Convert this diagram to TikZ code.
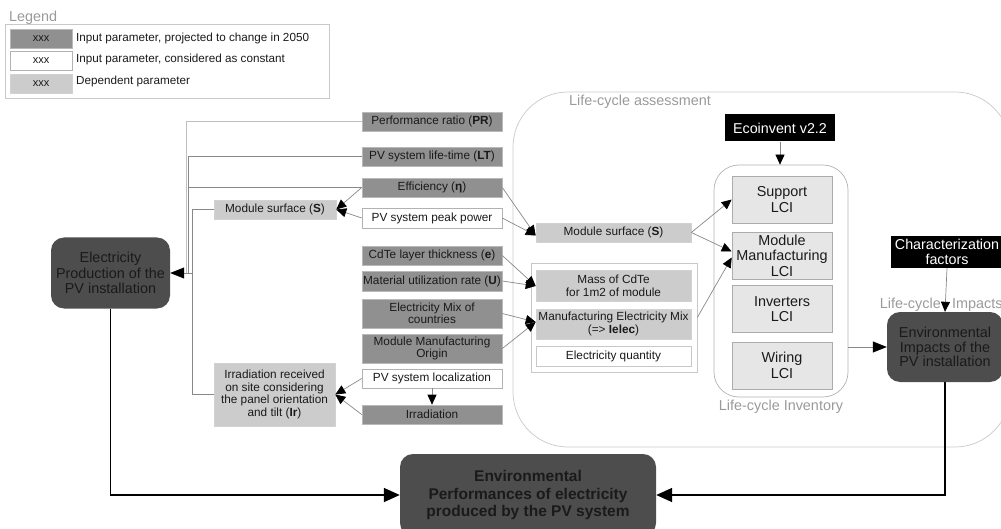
\documentclass[tikz,border=0pt]{standalone}
\usepackage{fontspec}
\setmainfont{Liberation Sans}
\usetikzlibrary{arrows.meta}
\definecolor{pdark}{HTML}{909090}
\definecolor{plight}{HTML}{CCCCCC}
\definecolor{lcifill}{HTML}{E6E6E6}
\definecolor{bignode}{HTML}{4D4D4D}
\definecolor{wiregray}{HTML}{888888}
\definecolor{framegray}{HTML}{C8C8C8}
\definecolor{capgray}{HTML}{9A9A9A}
\definecolor{ink}{HTML}{1A1A1A}
\newcommand\setfs[2]{\fontsize{#1}{#2}\selectfont}

\begin{document}
\begin{tikzpicture}[x=1pt,y=-1pt,
  inbox/.style={draw=gray!55, line width=0.6pt, fill=pdark, inner sep=0pt, align=center,
    text=ink, font=\setfs{11.8}{12.5}, minimum width=140pt, minimum height=19pt},
  constbox/.style={inbox, fill=white, draw=gray!60},
  depbox/.style={inbox, fill=plight, draw=gray!35},
  lcibox/.style={draw=gray!65, line width=0.6pt, fill=lcifill, minimum width=100pt,
    minimum height=47pt, inner sep=0pt, align=center, text=ink, font=\setfs{14.4}{15.5}},
  bigbox/.style={fill=bignode, rounded corners=13pt, inner sep=0pt, align=center,
    text=ink, font=\setfs{14.4}{15.5}},
  blackbox/.style={fill=black, text=white, inner sep=0pt, align=center, font=\setfs{14.3}{15}},
  captext/.style={text=capgray, inner sep=0pt, font=\setfs{14.4}{16}},
  legtext/.style={text=ink, inner sep=0pt, anchor=west, font=\setfs{11.7}{13}},
  wire/.style={draw=wiregray, line width=0.7pt},
  wtip/.style={-{Triangle[length=10pt,width=9pt,color=black]}},
  bigtip/.style={-{Triangle[length=14pt,width=11pt,color=black]}},
  mainline/.style={draw=black, line width=1.6pt, -{Triangle[length=16pt,width=14pt]}}
]
\useasboundingbox (0,0) rectangle (1001,529);

% ---------- legend ----------
\node[captext, anchor=west] (legtitle) at (9,18) {Legend};
\node[draw=framegray, line width=0.6pt, minimum width=324pt, minimum height=74pt,
  inner sep=0pt, anchor=north west] (legbox) at (5,24) {};
\node[inbox, minimum width=62pt, font=\setfs{11}{12}] (sw1) at (41,39) {xxx};
\node[constbox, minimum width=62pt, font=\setfs{11}{12}] (sw2) at (41,60.5) {xxx};
\node[depbox, minimum width=62pt, font=\setfs{11}{12}] (sw3) at (41,83.5) {xxx};
\node[legtext] (lg1) at (76,38) {Input parameter, projected to change in 2050};
\node[legtext] (lg2) at (76,59) {Input parameter, considered as constant};
\node[legtext] (lg3) at (76,81) {Dependent parameter};

% ---------- life-cycle assessment frame ----------
\node[draw=framegray, line width=0.7pt, rounded corners=55pt, minimum width=497pt,
  minimum height=355pt, inner sep=0pt] (lca) at (761.5,269.5) {};
\node[captext, anchor=west] (lcalabel) at (569,102) {Life-cycle assessment};

% ---------- input parameters ----------
\node[inbox] (pr)  at (432,121.5) {Performance ratio (\textbf{PR})};
\node[inbox] (lt)  at (432,156.5) {PV system life-time (\textbf{LT})};
\node[inbox] (eff) at (432,187.5) {Efficiency (\textbf{η})};
\node[constbox, minimum height=20pt] (pp) at (432,218) {PV system peak power};
\node[inbox] (cdte) at (432,255.5) {CdTe layer thickness (\textbf{e})};
\node[inbox, minimum height=20pt] (mur) at (432,281) {Material utilization rate (\textbf{U})};
\node[inbox, minimum height=29pt] (emix) at (432,313.5) {Electricity Mix of\\countries};
\node[inbox, minimum height=29pt] (origin) at (432,348.5) {Module Manufacturing\\Origin};
\node[constbox] (loc) at (432,378.5) {PV system localization};
\node[inbox] (irr) at (432,414.5) {Irradiation};

% ---------- dependent parameters ----------
\node[depbox, minimum width=122pt] (ms1) at (275,209.5) {Module surface (\textbf{S})};
\node[depbox, minimum width=121pt, minimum height=63pt, font=\setfs{11.8}{12.7}] (ir) at (274.5,394.5)
  {Irradiation received\\on site considering\\the panel orientation\\and tilt (\textbf{Ir})};
\node[depbox, minimum width=155pt] (ms2) at (613.5,232.5) {Module surface (\textbf{S})};
\node[draw=framegray, line width=0.6pt, minimum width=166pt, minimum height=109pt,
  inner sep=0pt] (elecgrp) at (614,317.5) {};
\node[depbox, minimum width=155pt, minimum height=31pt, font=\setfs{11.8}{13}] (mass) at (613.5,286)
  {Mass of CdTe\\for 1m2 of module};
\node[depbox, minimum width=155pt, minimum height=30pt, font=\setfs{11.8}{13}] (mem) at (613.5,324)
  {Manufacturing Electricity Mix\\(=> \textbf{Ielec})};
\node[constbox, minimum width=155pt, minimum height=20pt, draw=framegray] (equant) at (613.5,356.5)
  {Electricity quantity};

% ---------- electricity production ----------
\node[bigbox, minimum width=119pt, minimum height=71pt] (ep) at (110.5,273)
  {Electricity\\Production of the\\PV installation};

% ---------- life-cycle inventory ----------
\node[draw=gray!60, line width=0.7pt, rounded corners=25pt, minimum width=134pt,
  minimum height=232pt, inner sep=0pt] (lci) at (781,281) {};
\node[captext] (lcilabel) at (781,407) {Life-cycle Inventory};
\node[lcibox] (sup) at (782,199.5) {Support\\LCI};
\node[lcibox] (mml) at (782,255.5) {Module\\Manufacturing\\LCI};
\node[lcibox] (inv) at (782,309) {Inverters\\LCI};
\node[lcibox] (wir) at (782,365.5) {Wiring\\LCI};
\node[blackbox, minimum width=110pt, minimum height=27pt] (eco) at (780,128) {Ecoinvent v2.2};

% ---------- impacts ----------
\node[blackbox, minimum width=112pt, minimum height=32pt] (cf) at (947,252)
  {Characterization\\factors};
\node[captext, anchor=east] (lcilab1) at (941,305) {Life-cycle};
\node[captext, anchor=west] (lcilab2) at (952,305) {Impacts};
\node[bigbox, minimum width=116pt, minimum height=70pt, font=\setfs{14.4}{14.5}] (ei) at (945,347)
  {Environmental\\Impacts of the\\PV installation};

% ---------- final result ----------
\node[bigbox, minimum width=256pt, minimum height=82pt, font=\bfseries\setfs{15.5}{17.5}] (perf)
  at (528,495) {Environmental\\Performances of electricity\\produced by the PV system};

% ---------- parameter collection towards electricity production ----------
\coordinate (busA) at (186,273);
\coordinate (busB) at (188,273);
\coordinate (busC) at (192,273);
\draw[wire, draw=gray!50] (pr.west) -| (busA);
\draw[wire] (lt.west) -| (busB);
\draw[wire] (eff.west) -| (busB);
\draw[wire] (ms1.west) -| (busC);
\draw[wire] (ir.west) -| (busC);
\draw[wire, bigtip] (busC) -- (ep.east);

% ---------- dependencies ----------
\draw[wire, wtip] (eff.west) -- (ms1.east);
\draw[wire, wtip] (pp.west) -- (ms1.east);
\draw[wire, wtip] (loc.west) -- (ir.east);
\draw[wire, wtip] (irr.west) -- (ir.east);
\draw[wire, wtip] (loc.south) -- (irr.north);
\draw[wire, wtip] (eff.east) -- ([yshift=-3pt]ms2.west);
\draw[wire, wtip] (pp.east) -- ([yshift=-3pt]ms2.west);
\draw[wire, wtip] (cdte.east) -- (mass.west);
\draw[wire, wtip] (mur.east) -- (mass.west);
\draw[wire, wtip] (emix.east) -- ([yshift=2pt]mem.west);
\draw[wire, wtip] (origin.east) -- ([yshift=2pt]mem.west);
\draw[wire, wtip] (ms2.east) -- (sup.west);
\draw[wire, wtip] (ms2.east) -- ([yshift=4pt]mml.west);
\draw[wire, wtip] (elecgrp.east) -- ([yshift=-2pt]mml.west);
\draw[wire, wtip] (eco.south) -- (eco.south |- lci.north);
\draw[wire, bigtip] (lci.east |- ei.west) -- (ei.west);
\draw[wire, wtip] (cf.south) -- (ei.north);

% ---------- towards the final result ----------
\draw[mainline] (ep.south) |- (perf.west);
\draw[mainline] (ei.south) |- (perf.east);
\end{tikzpicture}
\end{document}
